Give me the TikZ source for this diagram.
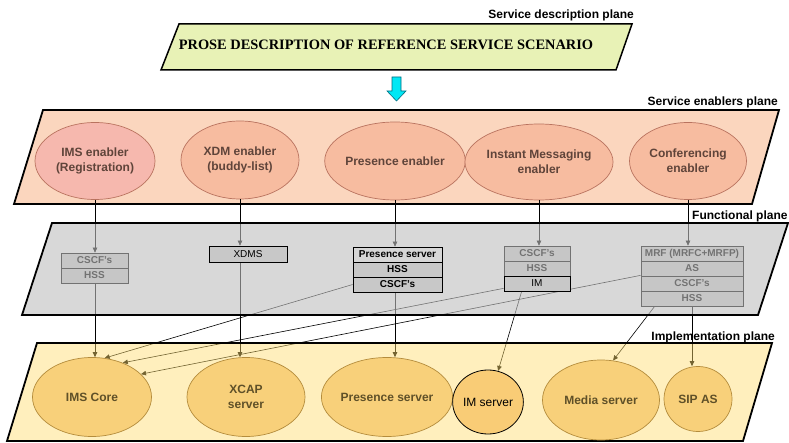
\documentclass[tikz,border=0pt]{standalone}
\usepackage{fontspec}
\setmainfont{Liberation Sans}
\newfontfamily\prosefont{Liberation Serif}
\usetikzlibrary{arrows.meta,calc,shapes.geometric}
\pgfdeclarelayer{back}
\pgfdeclarelayer{wires}
\pgfdeclarelayer{planes}
\pgfsetlayers{back,wires,planes,main}

\definecolor{descfill}{RGB}{232,242,182}
\definecolor{enabplane}{RGB}{251,214,190}
\definecolor{enabfill}{RGB}{247,188,160}
\definecolor{imsenfill}{RGB}{246,184,174}
\definecolor{enabedge}{RGB}{185,115,95}
\definecolor{enabtext}{RGB}{95,68,58}
\definecolor{funcplane}{RGB}{191,191,191}
\definecolor{implplane}{RGB}{255,221,110}
\definecolor{implfill}{RGB}{248,208,122}
\definecolor{imsrvfill}{RGB}{249,204,118}
\definecolor{impledge}{RGB}{180,140,60}
\definecolor{impltext}{RGB}{95,80,40}
\definecolor{rowfill}{RGB}{200,200,200}
\definecolor{rowlight}{RGB}{214,214,214}
\definecolor{underfill}{RGB}{210,210,210}
\definecolor{cyanfill}{RGB}{0,232,245}
\definecolor{cyanedge}{RGB}{0,110,130}

\begin{document}
\begin{tikzpicture}[x=1pt,y=-1pt,
  plane/.style={draw=black, line width=1.8pt, line join=miter},
  enabler/.style={ellipse, draw=enabedge, line width=0.7pt, fill=enabfill,
    text=enabtext, inner sep=0pt, minimum width=118pt, minimum height=78pt,
    align=center, font=\bfseries\fontsize{12}{15}\selectfont},
  impl/.style={ellipse, draw=impledge, line width=0.7pt, fill=implfill,
    text=impltext, inner sep=0pt, minimum width=118pt, minimum height=79pt,
    align=center, font=\bfseries\fontsize{12}{15}\selectfont},
  row/.style={draw=black, line width=0.7pt, fill=rowfill, inner sep=0pt,
    minimum height=15pt, font=\bfseries\fontsize{10}{12}\selectfont},
  wire/.style={draw=black, line width=0.6pt, -{Triangle[length=5pt,width=4.5pt]}},
  planelabel/.style={font=\bfseries\fontsize{12}{14}\selectfont, inner sep=0pt}
]
\useasboundingbox (0,0) rectangle (789,443);

% ---------- service description plane ----------
\filldraw[draw=black, line width=1.5pt, fill=descfill]
  (179,24) -- (632,24) -- (616,70) -- (161,70) -- cycle;
\node[font=\prosefont\bfseries\fontsize{14.4}{16}\selectfont] (prose) at (386,45)
  {PROSE DESCRIPTION OF REFERENCE SERVICE SCENARIO};
\node[planelabel, anchor=east] (lbldesc) at (634,15) {Service description plane};

% block arrow down to the enablers
\filldraw[draw=cyanedge, line width=0.6pt, fill=cyanfill]
  (392,77) -- (401,77) -- (401,91) -- (406,91) -- (396.5,101)
  -- (387,91) -- (392,91) -- cycle;

% ---------- service enablers plane ----------
\begin{pgfonlayer}{back}
\fill[white] (0,0) rectangle (789,443);
\filldraw[plane, fill=enabplane] (43,110) -- (779,110) -- (752,204) -- (14,204) -- cycle;
\node[enabler, fill=imsenfill, minimum width=120pt, minimum height=77pt] (e1) at (95,161)
  {IMS enabler\\(Registration)};
\node[enabler] (e2) at (240,160) {XDM enabler\\(buddy-list)};
\node[enabler] (e3) at (395,161) {Presence enabler};
\node[enabler, minimum width=119pt, minimum height=76pt] (e4) at (539,162)
  {Instant Messaging\\enabler};
\node[enabler, minimum width=117pt, minimum height=77pt] (e5) at (688,161)
  {Conferencing\\enabler};
\end{pgfonlayer}
\node[planelabel, anchor=east] (lblenab) at (778,102) {Service enablers plane};

% ---------- functional plane: elements seen through the plane ----------
\begin{pgfonlayer}{wires}
\node[row, fill=underfill, minimum width=67pt] (c1) at (94.5,260.5) {CSCF's};
\node[row, fill=underfill, minimum width=67pt] (h1) at (94.5,275.5) {HSS};
\node[row, fill=underfill, minimum width=66pt] (imc) at (537,253.5) {CSCF's};
\node[row, fill=underfill, minimum width=66pt] (imh) at (537,268.5) {HSS};
\node[row, fill=underfill, minimum width=102pt] (m1) at (692,253.5) {MRF (MRFC+MRFP)};
\node[row, fill=underfill, minimum width=102pt] (m2) at (692,268.5) {AS};
\node[row, fill=underfill, minimum width=102pt] (m3) at (692,283.5) {CSCF's};
\node[row, fill=underfill, minimum width=102pt] (m4) at (692,298.5) {HSS};
\end{pgfonlayer}

% ---------- functional plane: elements on top ----------
\node[row, minimum width=78pt, minimum height=16pt,
  font=\fontsize{10}{12}\selectfont] (xdms) at (248,254) {XDMS};
\node[row, fill=rowlight, minimum width=89pt] (p1) at (397.5,254.5) {Presence server};
\node[row, minimum width=89pt] (p2) at (397.5,269.5) {HSS};
\node[row, minimum width=89pt] (p3) at (397.5,284.5) {CSCF's};
\node[row, minimum width=66pt, font=\fontsize{10}{12}\selectfont] (imr) at (537,283.5) {IM};
\node[planelabel, anchor=west] (lblfunc) at (692,216) {Functional plane};

% ---------- implementation plane ----------
\node[impl, minimum width=119pt] (core) at (92,397) {IMS Core};
\node[impl] (xcap) at (246,397) {XCAP\\server};
\node[impl, minimum width=114pt] (psrv) at (387,397) {Presence server};
\node[ellipse, draw=black, line width=0.8pt, fill=imsrvfill, inner sep=0pt,
  minimum width=67pt, minimum height=64pt, font=\fontsize{12}{14}\selectfont]
  (imsrv) at (488,402) {IM server};
\node[impl, minimum width=117pt, minimum height=80pt] (media) at (601,400) {Media server};
\node[impl, minimum width=68pt, minimum height=65pt] (sip) at (698,399) {SIP AS};
\node[planelabel, anchor=east] (lblimpl) at (775,337) {Implementation plane};

% ---------- connectors ----------
\begin{pgfonlayer}{wires}
\draw[wire] (e1.south) -- (e1.south |- c1.north);
\draw[wire] (e2.south) -- (e2.south |- xdms.north);
\draw[wire] (e3.south) -- (e3.south |- p1.north);
\draw[wire] (e4.south) -- (e4.south |- imc.north);
\draw[wire] (e5.south) -- (e5.south |- m1.north);
\draw[wire] (h1.south -| e1) -- (core.north -| e1);
\draw[wire] (xdms.south -| e2) -- (xcap.north -| e2);
\draw[wire] (p3.south -| e3) -- (psrv.north -| e3);
\draw[wire] (p3.west) -- (core.72);
\draw[wire] ($(imr.south west)+(0,-3)$) -- (core.48);
\draw[wire] ($(m2.south west)+(0,-1)$) -- (core.25);
\draw[wire] ($(imr.south west)+(18,0)$) -- (imsrv.72);
\draw[wire] ($(m4.south west)+(14,0)$) -- (media.73);
\draw[wire] (m4.south) -- (m4.south |- sip.north);
\end{pgfonlayer}

% ---------- translucent planes over the connectors ----------
\begin{pgfonlayer}{planes}
\filldraw[plane, fill=funcplane, fill opacity=0.6]
  (52,223) -- (788,223) -- (758,315) -- (22,315) -- cycle;
\filldraw[plane, fill=implplane, fill opacity=0.45]
  (37,343) -- (772,343) -- (743,441) -- (7,441) -- cycle;
\end{pgfonlayer}
\end{tikzpicture}
\end{document}
